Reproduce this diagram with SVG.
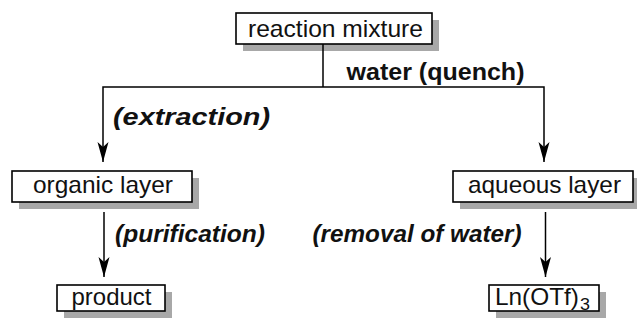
<svg xmlns="http://www.w3.org/2000/svg" width="637" height="320" viewBox="0 0 637 320">
<style>
.box{fill:#fff;stroke:#000;stroke-width:1.6}
.sh{fill:#a8a8a8}
.t{font-family:"Liberation Sans",Arial,sans-serif;font-size:24px;fill:#111}
.b{font-family:"Liberation Sans",Arial,sans-serif;font-size:24px;font-weight:bold;fill:#111}
.bi{font-family:"Liberation Sans",Arial,sans-serif;font-size:24px;font-weight:bold;font-style:italic;fill:#111}
.ln{fill:none;stroke:#000;stroke-width:1.5}
</style>
<defs>
<marker id="ah" markerUnits="userSpaceOnUse" markerWidth="24" markerHeight="14" viewBox="-21 -7 22 14" refX="0" refY="0" orient="auto">
<path d="M0,0 L-20,-5.5 L-15,0 L-20,5.5 Z" fill="#000"/>
</marker>
</defs>
<rect width="637" height="320" fill="#fff"/>
<g id="reaction-mixture">
<rect class="sh" x="243" y="20" width="196" height="31"/>
<rect class="box" x="236" y="13" width="196" height="31"/>
<text class="t" x="248" y="37" textLength="175" lengthAdjust="spacingAndGlyphs">reaction mixture</text>
</g>
<g id="organic-layer">
<rect class="sh" x="19" y="178" width="180" height="31"/>
<rect class="box" x="12" y="171" width="180" height="31"/>
<text class="t" x="33" y="193" textLength="140" lengthAdjust="spacingAndGlyphs">organic layer</text>
</g>
<g id="aqueous-layer">
<rect class="sh" x="460" y="178" width="180" height="31"/>
<rect class="box" x="453" y="171" width="180" height="31"/>
<text class="t" x="468" y="193" textLength="153" lengthAdjust="spacingAndGlyphs">aqueous layer</text>
</g>
<g id="product">
<rect class="sh" x="64" y="292" width="108" height="26"/>
<rect class="box" x="57" y="285" width="108" height="26"/>
<text class="t" x="71.5" y="305" textLength="80" lengthAdjust="spacingAndGlyphs">product</text>
</g>
<g id="ln-otf3">
<rect class="sh" x="496" y="292" width="110" height="26"/>
<rect class="box" x="489" y="285" width="110" height="26"/>
<text class="t" x="495" y="305" textLength="84" lengthAdjust="spacingAndGlyphs">Ln(OTf)</text>
<text class="t" x="580" y="309.5" style="font-size:16px" textLength="10" lengthAdjust="spacingAndGlyphs">3</text>
</g>
<g id="connectors">
<line class="ln" x1="323" y1="44" x2="323" y2="87"/>
<polyline class="ln" points="323,87 103,87 103,162" marker-end="url(#ah)"/>
<polyline class="ln" points="323,87 544,87 544,162" marker-end="url(#ah)"/>
<line class="ln" x1="104" y1="212" x2="104" y2="277" marker-end="url(#ah)"/>
<line class="ln" x1="545.5" y1="212" x2="545.5" y2="277" marker-end="url(#ah)"/>
<text class="b" x="346.5" y="80" textLength="178" lengthAdjust="spacingAndGlyphs">water (quench)</text>
<text class="bi" x="113" y="125" textLength="157" lengthAdjust="spacingAndGlyphs">(extraction)</text>
<text class="bi" x="115" y="242" textLength="150" lengthAdjust="spacingAndGlyphs">(purification)</text>
<text class="bi" x="312.5" y="242" textLength="209" lengthAdjust="spacingAndGlyphs">(removal of water)</text>
</g>
</svg>
